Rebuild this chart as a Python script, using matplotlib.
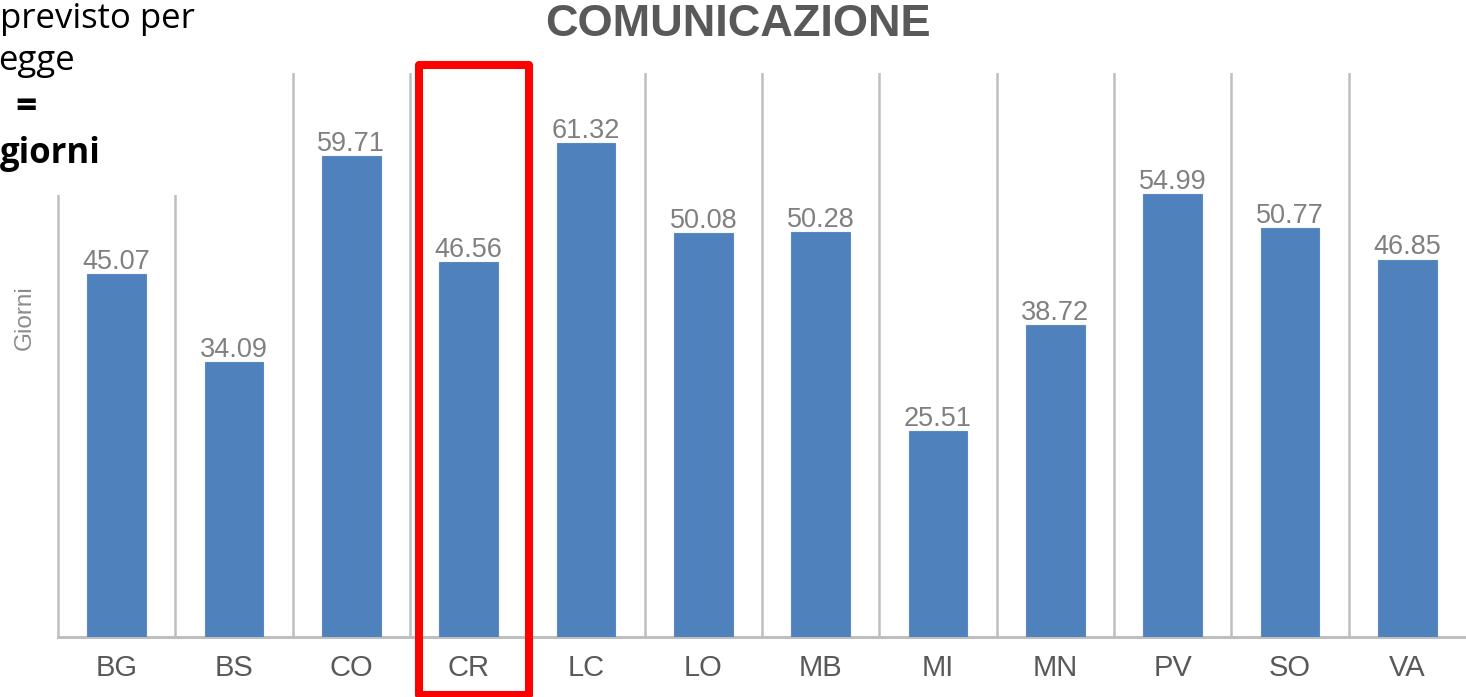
import matplotlib
matplotlib.use("Agg")
import matplotlib.pyplot as plt
from matplotlib.patches import Rectangle
import matplotlib.transforms as mtransforms

categories = ["BG", "BS", "CO", "CR", "LC", "LO", "MB", "MI", "MN", "PV", "SO", "VA"]
values = [45.07, 34.09, 59.71, 46.56, 61.32, 50.08, 50.28, 25.51, 38.72, 54.99, 50.77, 46.85]
title = "COMUNICAZIONE"
ylabel = "Giorni"
highlight = "CR"

W, H = 1466, 697
fig = plt.figure(figsize=(W / 100, H / 100), dpi=100)
ax = fig.add_axes([58 / W, (H - 637) / H, (W - 58) / W, (637 - 73) / H])

x = list(range(len(categories)))
ax.bar(x, values, width=0.5, color="#4f81bd", edgecolor="#5a8ac6", linewidth=0.8, zorder=3)
ax.set_xlim(-0.5, len(categories) - 0.5)
ax.set_ylim(0, 70)

for xi, v in zip(x, values):
    ax.annotate(f"{v:.2f}", (xi, v), xytext=(0, -0.5), textcoords="offset points",
                ha="center", va="bottom", fontsize=19.5, color="#808080",
                family="Liberation Sans", zorder=4)

sep_color = "#bfbfbf"
for i in range(len(categories) - 1):
    ax.axvline(i + 0.5, color=sep_color, linewidth=1.8, zorder=1)

for s in ["top", "right"]:
    ax.spines[s].set_visible(False)
ax.spines["left"].set_color(sep_color)
ax.spines["left"].set_linewidth(1.8)
ax.spines["bottom"].set_color(sep_color)
ax.spines["bottom"].set_linewidth(2.2)

ax.set_yticks([])
ax.set_xticks(x)
ax.set_xticklabels(categories, family="Liberation Sans", fontsize=21, color="#595959")
ax.tick_params(axis="x", length=0, pad=12)

fig.text(25 / W, 1 - 318 / H, ylabel, rotation=90, ha="center", va="center",
         fontsize=17.5, color="#8c8c8c", family="Liberation Sans")

fig.text(738 / W, 1 - 25 / H, title, ha="center", va="center", fontsize=32.5,
         fontweight="bold", color="#595959", family="Liberation Sans")

# white overlay box from slide (top-left)
fig.patches.append(Rectangle((0, 1 - 195 / H), 215 / W, 195 / H, transform=fig.transFigure,
                             facecolor="white", edgecolor="none", zorder=5))
fig.text(0 / W, 1 - 28 / H, "previsto per", ha="left", va="baseline", fontsize=25,
         color="black", family="Open Sans", zorder=6)
fig.text(-2 / W, 1 - 70 / H, "egge", ha="left", va="baseline", fontsize=25,
         color="black", family="Open Sans", zorder=6)
fig.text(26 / W, 1 - 108 / H, "=", ha="center", va="center", fontsize=27,
         fontweight="bold", color="black", family="Open Sans", zorder=6)
fig.text(0 / W, 1 - 163 / H, "giorni", ha="left", va="baseline", fontsize=25,
         fontweight="bold", color="black", family="Open Sans", zorder=6)

# red highlight rectangle around CR
hi = categories.index(highlight)
trans = mtransforms.blended_transform_factory(ax.transData, fig.transFigure)
rect = Rectangle((hi + 0.047 - 0.468, 2 / H), 0.936, (695 - 65) / H, transform=trans,
                 fill=False, edgecolor="#ff0000", linewidth=5.8, joinstyle="round",
                 zorder=10, clip_on=False)
fig.patches.append(rect)

fig.savefig("out.png", dpi=100, facecolor="white")
